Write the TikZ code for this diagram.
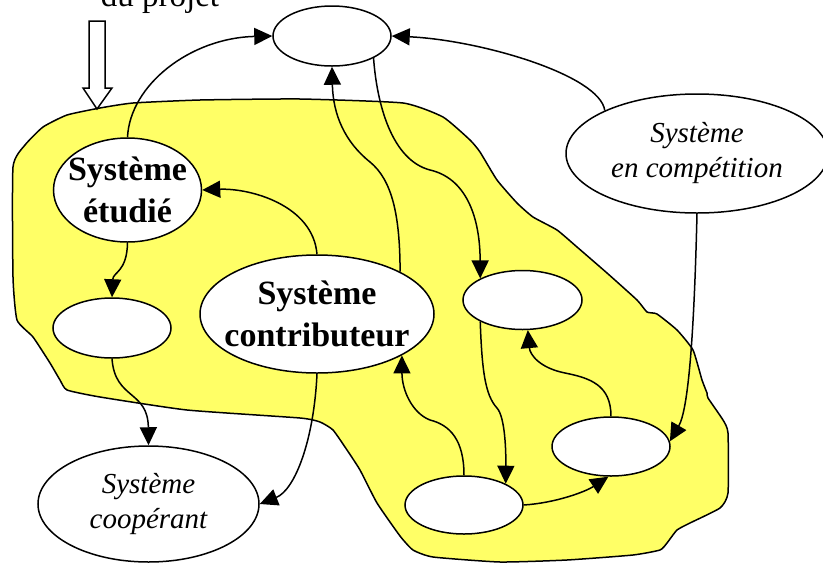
\documentclass[tikz,border=0pt]{standalone}
\usepackage{fontspec}
\setmainfont{Liberation Serif}
\usetikzlibrary{arrows.meta,shapes.geometric}
\definecolor{zonefill}{RGB}{255,255,102}
\begin{document}
\begin{tikzpicture}[x=1pt,y=-1pt,
  line width=1.5pt,
  sys/.style={draw, ellipse, fill=white, inner sep=0pt},
  boldtxt/.style={font=\fontsize{34}{42}\selectfont\bfseries, align=center},
  itxt/.style={font=\fontsize{29}{35}\selectfont\itshape, align=center},
  flow/.style={-{Triangle[length=18pt,width=17pt]}},
]
\useasboundingbox (0,0) rectangle (823,563);
\clip (0,0) rectangle (823,563);

% project zone
\fill[zonefill, draw=black] plot[smooth cycle, tension=0.3] coordinates {
  (13,167) (25,145) (43,127) (67,115) (100,108) (133,103) (200,100) (300,99)
  (403,103) (443,117) (470,140) (480,152) (497,180) (517,203) (533,217)
  (557,230) (577,247) (607,273) (637,300) (647,312) (657,314) (677,330)
  (693,350) (702,380) (707,393) (708,398) (723,420) (728,433) (728,493)
  (720,508) (690,523) (677,530) (667,543) (660,550) (633,555) (567,560)
  (500,562) (433,557) (413,550) (400,536) (377,503) (360,470) (347,450)
  (333,430) (320,422) (300,418) (187,410) (100,397) (67,390) (60,380)
  (50,363) (33,337) (17,320) (13,277)};

% boundary arrow and its caption
\node[anchor=base, font=\fontsize{33}{40}\selectfont] (titre) at (160,6) {du projet};
\draw[fill=white] (89,21) -- (105,21) -- (105,88) -- (112,88) -- (97,109)
  -- (83,88) -- (89,88) -- cycle;

% systems
\node[sys, minimum width=118pt, minimum height=60pt] (top) at (332,36) {};
\node[sys, minimum width=148pt, minimum height=104pt,
  label={[boldtxt]center:{Système\\étudié}}] (etud) at (127.5,190) {};
\node[sys, minimum width=118pt, minimum height=60pt] (sl) at (112,328) {};
\node[sys, minimum width=234pt, minimum height=118pt,
  label={[boldtxt]center:{Système\\contributeur}}] (contrib) at (317,314) {};
\node[sys, minimum width=262pt, minimum height=119pt,
  label={[itxt]center:{Système\\en compétition}}] (comp) at (697,153.5) {};
\node[sys, minimum width=119pt, minimum height=59pt] (rm) at (522.5,300) {};
\node[sys, minimum width=221pt, minimum height=116pt,
  label={[itxt]center:{Système\\coopérant}}] (coop) at (148.5,504) {};
\node[sys, minimum width=118pt, minimum height=58pt] (bl) at (464,505) {};
\node[sys, minimum width=118pt, minimum height=59pt] (rl) at (611,446.5) {};

% exchanges
\draw[flow] (etud.north) .. controls (130,85) and (190,38) .. (top.west);
\draw[flow] (comp.155) .. controls (600,75) and (480,40) .. (top.east);
\draw[flow] (contrib.27) .. controls (400,215) and (392,180) .. (370,162)
  .. controls (345,142) and (333,115) .. (top.south);
\draw[flow] (top.-28) .. controls (377,105) and (392,160) .. (430,170)
  .. controls (465,178) and (480,215) .. (rm.153);
\draw[flow] (contrib.north) .. controls (313,205) and (250,188) .. (etud.east);
\draw[flow] (etud.south) .. controls (127,272) and (113,272) .. (sl.north);
\draw[flow] (sl.south) .. controls (115,400) and (148,390) .. (coop.north);
\draw[flow] (contrib.south) .. controls (314,440) and (295,490) .. (coop.east);
\draw[flow] (bl.north) .. controls (464,440) and (450,425) .. (430,420)
  .. controls (412,413) and (402,390) .. (contrib.-26);
\draw[flow] (rm.207) .. controls (482,370) and (485,395) .. (497,408)
  .. controls (505,417) and (506,450) .. (bl.27);
\draw[flow] (rl.north) .. controls (611,385) and (590,378) .. (565,373)
  .. controls (540,368) and (530,355) .. (rm.-80);
\draw[flow] (comp.south) .. controls (694,340) and (688,410) .. (rl.5);
\draw[flow] (bl.east) .. controls (555,503) and (585,492) .. (rl.-95);
\end{tikzpicture}
\end{document}
